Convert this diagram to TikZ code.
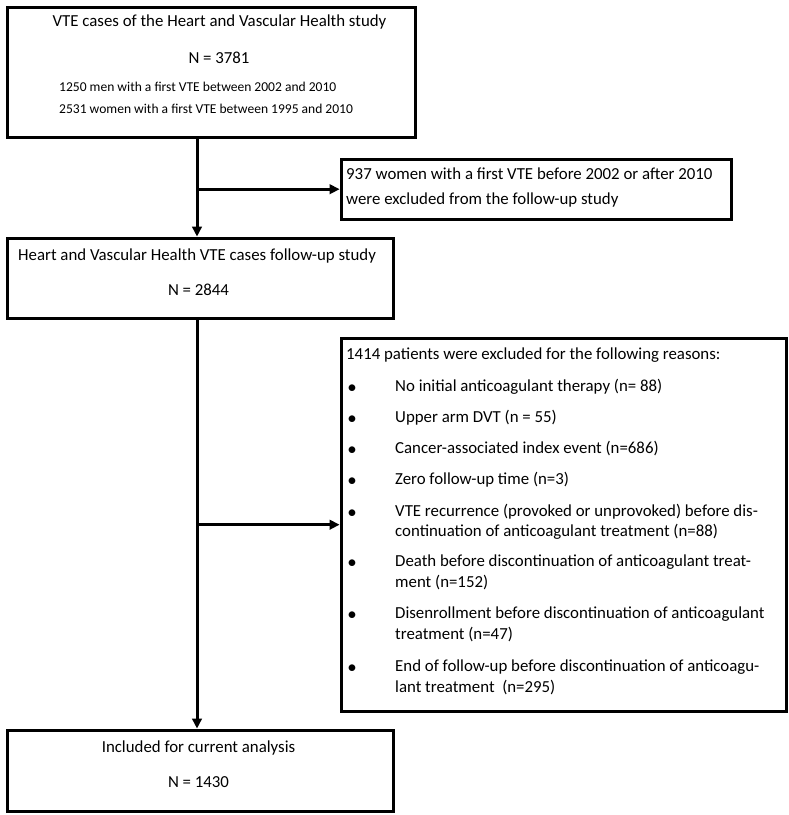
\documentclass[tikz,border=0pt]{standalone}
\usepackage{fontspec}
\setmainfont{Carlito}
\usetikzlibrary{arrows.meta,positioning}

\tikzset{
  box/.style={draw, line width=3.2bp, anchor=north west, inner sep=0pt},
  flow/.style={line width=3bp, -{Triangle[length=10bp,width=9.5bp]}},
  txt/.style={inner sep=0pt, font=\fontsize{16.9}{20}\selectfont},
  small/.style={inner sep=0pt, font=\fontsize{13.6}{16}\selectfont},
  bullet/.style={inner sep=0pt, font=\fontsize{19}{20}\selectfont},
}

\begin{document}
\begin{tikzpicture}[x=1bp,y=-1bp]
\useasboundingbox (0,0) rectangle (789,815);

% boxes
\node[box, minimum width=408bp, minimum height=130bp] (cases) at (5.6,5.6) {};
\node[box, minimum width=390bp, minimum height=60bp] (women) at (339.6,157.6) {};
\node[box, minimum width=386bp, minimum height=80bp] (followup) at (5.6,236.6) {};
\node[box, minimum width=445bp, minimum height=373bp] (reasons) at (339.6,336.6) {};
\node[box, minimum width=386bp, minimum height=81bp] (included) at (5.6,728.6) {};

% flow
\coordinate (trunk) at (197,0);
\draw[flow] (cases.south -| trunk) -- (followup.north -| trunk);
\draw[flow] (trunk |- women.west) -- (women.west);
\draw[flow] (followup.south -| trunk) -- (included.north -| trunk);
\draw[flow] (trunk |- reasons.west) -- (reasons.west);

% cases
\node[txt, anchor=base] (cases-t) at (219.5,27) {VTE cases of the Heart and Vascular Health study};
\node[txt, anchor=base] (cases-n) at (219,64) {N = 3781};
\node[small, anchor=base west] (cases-m) at (59,91) {1250 men with a first VTE between 2002 and 2010};
\node[small, anchor=base west] (cases-w) at (59,113) {2531 women with a first VTE between 1995 and 2010};

% excluded women
\node[txt, anchor=base west] (women-1) at (346,179) {937 women with a first VTE before 2002 or after 2010};
\node[txt, anchor=base west] (women-2) at (346,204) {were excluded from the follow-up study};

% follow-up
\node[txt, anchor=base west] (followup-t) at (18,260) {Heart and Vascular Health VTE cases follow-up study};
\node[txt, anchor=base] (followup-n) at (198.5,295) {N = 2844};

% reasons
\node[txt, anchor=base west] (reasons-t) at (346,359) {1414 patients were excluded for the following reasons:};
\foreach \y in {386,417,448,479,511,561,613,666}
    \node[bullet, anchor=base] (dot-\y) at (352,\y+7) {\textbullet};
\foreach \y/\line in {386/{No initial anticoagulant therapy (n= 88)},
                      417/{Upper arm DVT (n = 55)},
                      448/{Cancer-associated index event (n=686)},
                      479/{Zero follow-up time (n=3)},
                      511/{VTE recurrence (provoked or unprovoked) before dis-},
                      531/{continuation of anticoagulant treatment (n=88)},
                      561/{Death before discontinuation of anticoagulant treat-},
                      582/{ment (n=152)},
                      613/{Disenrollment before discontinuation of anticoagulant},
                      634/{treatment (n=47)},
                      666/{End of follow-up before discontinuation of anticoagu-},
                      687/{lant treatment\ \ (n=295)}}
    \node[txt, anchor=base west] (line-\y) at (395,\y+5) {\line};

% included
\node[txt, anchor=base] (included-t) at (198.5,752) {Included for current analysis};
\node[txt, anchor=base] (included-n) at (198.5,787) {N = 1430};

\end{tikzpicture}
\end{document}
